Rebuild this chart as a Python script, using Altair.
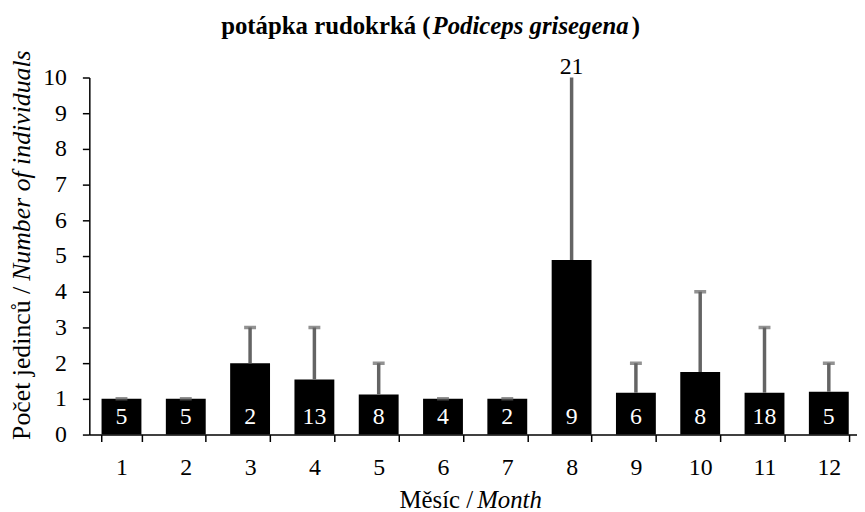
import altair as alt
import pandas as pd

months = [1, 2, 3, 4, 5, 6, 7, 8, 9, 10, 11, 12]
means = [1.0, 1.0, 2.0, 1.54, 1.125, 1.0, 1.0, 4.89, 1.17, 1.75, 1.17, 1.2]
maxima = [1, 1, 3, 3, 2, 1, 1, 21, 2, 4, 3, 2]
counts = [5, 5, 2, 13, 8, 4, 2, 9, 6, 8, 18, 5]
y_ticks = [0, 1, 2, 3, 4, 5, 6, 7, 8, 9, 10]

df = pd.DataFrame({"month": months, "mean": means, "max": maxima, "n": counts})

FONT = "Liberation Serif"
FS = 24
W, H = 774, 360

xscale = alt.Scale(range=[0, 778], paddingInner=0.38, paddingOuter=0.19)
yscale = alt.Scale(domain=[0, 10], nice=False, zero=True)

xax = alt.Axis(title=None, labelAngle=0, tickBand="extent", tickSize=7,
               labelPadding=14, labelFont=FONT, labelFontSize=FS,
               labelColor="black", domainColor="black", tickColor="black",
               domainWidth=1.5, tickWidth=1.5)
yax = alt.Axis(title=None, values=y_ticks, grid=False, tickSize=7,
               labelPadding=16, labelOverlap=False, labelFont=FONT, labelFontSize=FS,
               labelColor="black", domainColor="black", tickColor="black",
               domainWidth=1.5, tickWidth=1.5)

base = alt.Chart(df)
xe = alt.X("month:O", scale=xscale, axis=xax)

bars = base.mark_bar(color="black").encode(
    x=xe, y=alt.Y("mean:Q", scale=yscale, axis=yax))

stems = base.mark_rule(color="#646464", strokeWidth=3.5, clip=True).encode(
    x=xe, y=alt.Y("mean:Q", scale=yscale, axis=yax), y2="max:Q")

caps = base.mark_tick(color="#646464", size=12, thickness=3.5, clip=True).encode(
    x=xe, y=alt.Y("max:Q", scale=yscale, axis=yax))

nlab = base.mark_text(color="white", font=FONT, fontSize=FS, baseline="middle", dy=-18).encode(
    x=xe, y=alt.datum(0, scale=yscale, axis=yax), text="n:Q")

toplab = base.transform_filter("datum.max > 10").transform_calculate(
    ytop="min(datum.max, 10)").mark_text(
    color="black", font=FONT, fontSize=FS, baseline="middle", dy=-11).encode(
    x=xe, y=alt.Y("ytop:Q", scale=yscale, axis=yax), text="max:Q")

one = pd.DataFrame({"k": [0]})


def txt(s, x, y, align, style="normal", weight="normal", angle=0, size=25):
    kw = dict(text=s, font=FONT, fontSize=size, align=align, baseline="middle",
              fontStyle=style, fontWeight=weight, color="black")
    if angle:
        kw["angle"] = angle
    return alt.Chart(one).mark_text(**kw).encode(x=alt.value(x), y=alt.value(y))


t1 = txt("potápka rudokrká (", 344, -52, "right", weight="bold")
t2 = txt("Podiceps grisegena", 346, -52, "left", style="italic", weight="bold")
t3 = txt(")", 547, -52, "left", weight="bold")
xt1 = txt("Měsíc /", 387, 426, "right")
xt2 = txt("Month", 391, 426, "left", style="italic")
yt1 = txt("Počet jedinců /", -68, 211, "right", angle=270, size=26)
yt2 = txt("Number of individuals", -68, 205, "left", style="italic", angle=270, size=26)

chart = alt.layer(bars, stems, caps, nlab, toplab, t1, t2, t3, xt1, xt2, yt1, yt2).properties(
    width=W, height=H,
    autosize=alt.AutoSizeParams(type="none"),
    padding={"left": 82, "top": 68, "right": 0, "bottom": 76},
).configure(background="white", font=FONT).configure_view(stroke=None)

chart.save("out.html", embed_options={"renderer": "svg", "actions": False})
